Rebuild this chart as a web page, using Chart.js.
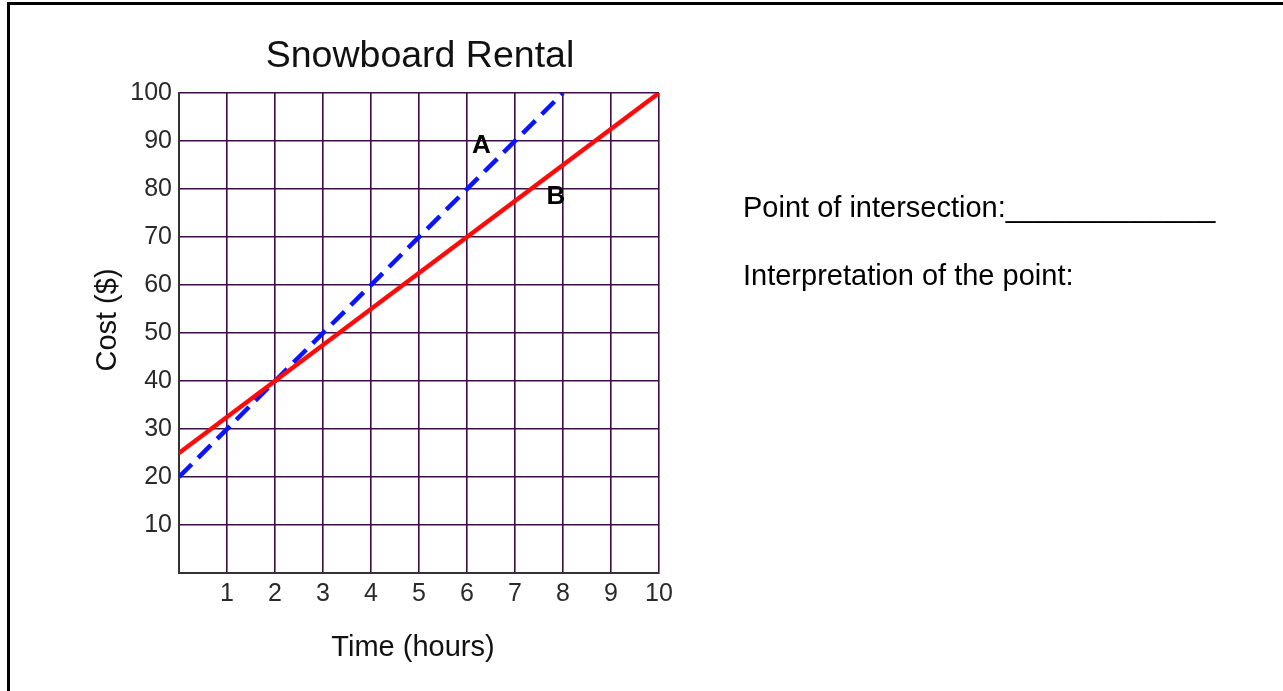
<!DOCTYPE html>
<html>
<head>
<meta charset="utf-8">
<script src="https://cdn.jsdelivr.net/npm/chart.js@4"></script>
<style>
  html, body { margin: 0; padding: 0; background: #fff; overflow: hidden; }
  #frame { position: absolute; left: 7px; top: 2px; width: 1400px; height: 800px; border: 3px solid #000; }
  #wrap { position: absolute; left: 0; top: 0; width: 1283px; height: 691px; }
  .note { position: absolute; left: 743px; font: 29px "Liberation Sans", Arial, sans-serif; color: #000; white-space: nowrap; }
</style>
</head>
<body>
<div id="frame"></div>
<div id="wrap"><canvas id="rentalChart" width="1283" height="691"></canvas></div>
<div class="note" style="top:191px">Point of intersection:_____________</div>
<div class="note" style="top:259px">Interpretation of the point:</div>
<script>
// plan A (dashed blue) and plan B (solid red)
const hoursA = [0, 8];
const costA = [20, 100];
const hoursB = [0, 10];
const costB = [25, 100];
const lineNames = ['A', 'B'];
const nameHours = [6.3, 7.85];
const nameCost = [89, 78.3];

const chartTitle = 'Snowboard Rental';
const xTitle = 'Time (hours)';
const yTitle = 'Cost ($)';

function toPoints(xs, ys) {
    return xs.map((x, i) => ({ x: x, y: ys[i] }));
}

// titles and the A / B names, drawn around the plot area
const textPlugin = {
    id: 'textPlugin',
    afterDraw(chart) {
        const ctx = chart.ctx;
        const area = chart.chartArea;
        const xs = chart.scales.x;
        const ys = chart.scales.y;
        ctx.save();
        ctx.fillStyle = '#111';
        ctx.textAlign = 'center';
        ctx.textBaseline = 'middle';
        ctx.font = '37.5px "Liberation Sans", Arial, sans-serif';
        ctx.fillText(chartTitle, (area.left + area.right) / 2 + 1, 57);
        ctx.font = '29px "Liberation Sans", Arial, sans-serif';
        ctx.fillText(xTitle, (area.left + area.right) / 2 - 6, 648);
        ctx.save();
        ctx.translate(108, 320);
        ctx.rotate(-Math.PI / 2);
        ctx.fillText(yTitle, 0, 0);
        ctx.restore();
        ctx.fillStyle = '#000';
        ctx.font = 'bold 26px "Liberation Sans", Arial, sans-serif';
        lineNames.forEach((name, i) => {
            ctx.fillText(name, xs.getPixelForValue(nameHours[i]), ys.getPixelForValue(nameCost[i]));
        });
        ctx.restore();
    }
};

const ctx = document.getElementById('rentalChart').getContext('2d');
new Chart(ctx, {
    type: 'scatter',
    data: {
        datasets: [{
            label: 'A',
            data: toPoints(hoursA, costA),
            showLine: true,
            borderColor: '#0a14ff',
            borderWidth: 4.5,
            borderDash: [18, 9],
            pointRadius: 0,
            order: 2
        }, {
            label: 'B',
            data: toPoints(hoursB, costB),
            showLine: true,
            borderColor: '#ff0a0a',
            borderWidth: 4.5,
            pointRadius: 0,
            order: 1
        }]
    },
    options: {
        responsive: false,
        animation: false,
        events: [],
        layout: { padding: { left: 119, top: 93, right: 624, bottom: 78 } },
        plugins: {
            legend: { display: false },
            tooltip: { enabled: false }
        },
        scales: {
            x: {
                type: 'linear',
                min: 0,
                max: 10,
                afterFit(scale) { scale.height = 40; },
                grid: { color: '#3f0b48', lineWidth: 1.6, drawTicks: false },
                border: { color: '#333', width: 2 },
                ticks: {
                    stepSize: 1,
                    padding: 6,
                    color: '#2a2a2a',
                    font: { family: '"Liberation Sans", Arial, sans-serif', size: 25 },
                    callback: v => v === 0 ? '' : v
                }
            },
            y: {
                min: 0,
                max: 100,
                afterFit(scale) { scale.width = 60; },
                grid: { color: '#3f0b48', lineWidth: 1.6, drawTicks: false },
                border: { color: '#333', width: 2 },
                ticks: {
                    stepSize: 10,
                    padding: 7,
                    color: '#2a2a2a',
                    font: { family: '"Liberation Sans", Arial, sans-serif', size: 25 },
                    callback: v => v === 0 ? '' : v
                }
            }
        }
    },
    plugins: [textPlugin]
});
</script>
</body>
</html>
